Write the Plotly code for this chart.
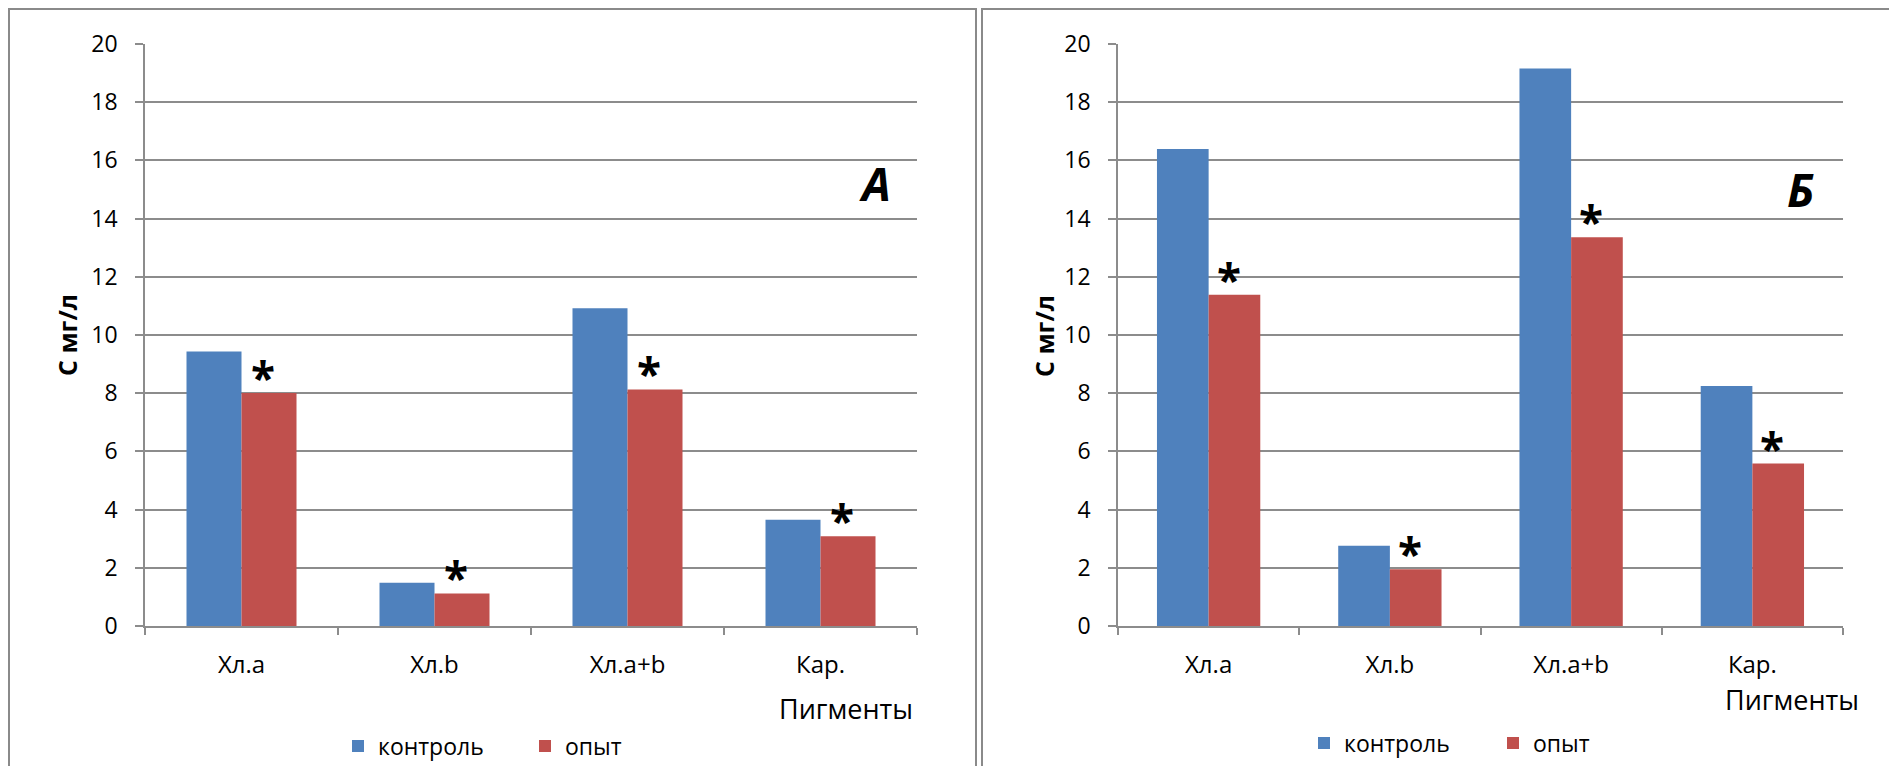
import plotly.graph_objects as go

# ---------------- data ----------------
categories = ["Хл.а", "Хл.b", "Хл.а+b", "Кар."]
series_names = ["контроль", "опыт"]
control_A = [9.43, 1.49, 10.92, 3.65]
experiment_A = [8.01, 1.12, 8.13, 3.08]
control_B = [16.39, 2.76, 19.16, 8.25]
experiment_B = [11.38, 1.95, 13.36, 5.58]
y_ticks = [0, 2, 4, 6, 8, 10, 12, 14, 16, 18, 20]
panel_labels = ["А", "Б"]
x_title = "Пигменты"
y_title = "С мг/л"
signif_mark = "*"

# ---------------- style ----------------
PAGE_W, PAGE_H = 1897, 766
OFF = 8  # default body margin of the html page
W, H = PAGE_W - OFF, PAGE_H - OFF
BLUE = "#4F81BD"
RED = "#C0504D"
GRID = "#8C8C8C"
FONT = "Open Sans, Liberation Sans, sans-serif"


def fx(px):
    """page pixel x -> paper fraction"""
    return (px - OFF) / W


def fy(py):
    """page pixel y (from top) -> paper fraction"""
    return 1 - (py - OFF) / H


fig = go.Figure()

panels = [
    dict(ctrl=control_A, exp=experiment_A, xa="x", ya="y", legend="legend"),
    dict(ctrl=control_B, exp=experiment_B, xa="x2", ya="y2", legend="legend2"),
]

for p in panels:
    fig.add_trace(go.Bar(x=categories, y=p["ctrl"], name=series_names[0],
                         marker=dict(color=BLUE, line=dict(width=0)),
                         xaxis=p["xa"], yaxis=p["ya"], legend=p["legend"]))
    fig.add_trace(go.Bar(x=categories, y=p["exp"], name=series_names[1],
                         marker=dict(color=RED, line=dict(width=0)),
                         xaxis=p["xa"], yaxis=p["ya"], legend=p["legend"]))

xaxis_common = dict(type="category", showline=True, linecolor=GRID, linewidth=1.5,
                    ticks="outside", tickson="boundaries", ticklen=7, tickwidth=1.5,
                    tickcolor=GRID, showgrid=False, zeroline=False, automargin=False,
                    tickfont=dict(size=24, color="black", family=FONT),
                    ticklabelstandoff=16, fixedrange=True)
yaxis_common = dict(range=[0, 20], tickvals=y_ticks, showgrid=True, gridcolor=GRID,
                    gridwidth=1.5, showline=True, linecolor=GRID, linewidth=1.5,
                    ticks="outside", ticklen=8, tickwidth=1.5, tickcolor=GRID,
                    zeroline=False, automargin=False,
                    tickfont=dict(size=23, color="black", family=FONT),
                    ticklabelstandoff=13, fixedrange=True)

legend_common = dict(orientation="h", bgcolor="rgba(0,0,0,0)", itemwidth=30,
                     font=dict(size=23, color="black", family=FONT),
                     xanchor="left", yanchor="middle", traceorder="normal",
                     entrywidthmode="pixels",
                     itemclick=False, itemdoubleclick=False)

fig.update_layout(
    width=W, height=H,
    margin=dict(l=0, r=0, t=0, b=0, autoexpand=False),
    paper_bgcolor="white", plot_bgcolor="white",
    barmode="group", bargap=0.43, bargroupgap=0,
    font=dict(family=FONT, color="black"),
    xaxis=dict(domain=[fx(145), fx(917)], anchor="y", **xaxis_common),
    yaxis=dict(domain=[fy(626), fy(44)], anchor="x", **yaxis_common),
    xaxis2=dict(domain=[fx(1118), fx(1843)], anchor="y2", **xaxis_common),
    yaxis2=dict(domain=[fy(626), fy(44)], anchor="x2", **yaxis_common),
    legend=dict(x=fx(338), y=fy(746), entrywidth=142, **legend_common),
    legend2=dict(x=fx(1304), y=fy(743), entrywidth=144, **legend_common),
    showlegend=True,
)

annotations = []
# significance asterisks above the experiment bars
for p in panels:
    for i, v in enumerate(p["exp"]):
        annotations.append(dict(x=i + 0.11, y=v, xref=p["xa"], yref=p["ya"],
                                text="<b>" + signif_mark + "</b>", showarrow=False,
                                xanchor="center", yanchor="middle", yshift=16,
                                font=dict(size=44, color="black", family=FONT)))

# panel letters
for lab, (px, py) in zip(panel_labels, [(875, 183), (1800, 189)]):
    annotations.append(dict(x=fx(px), y=fy(py), xref="paper", yref="paper",
                            text="<b><i>" + lab + "</i></b>", showarrow=False,
                            xanchor="center", yanchor="middle",
                            font=dict(size=46, color="black", family=FONT)))

# x-axis titles
for (px, py) in [(915, 708), (1861, 699)]:
    annotations.append(dict(x=fx(px), y=fy(py), xref="paper", yref="paper",
                            text=x_title, showarrow=False,
                            xanchor="right", yanchor="middle",
                            font=dict(size=27, color="black", family=FONT)))

# y-axis titles
for (px, py) in [(67, 335), (1044, 336)]:
    annotations.append(dict(x=fx(px), y=fy(py), xref="paper", yref="paper",
                            text="<b>" + y_title + "</b>", showarrow=False,
                            textangle=-90, xanchor="center", yanchor="middle",
                            font=dict(size=25, color="black", family=FONT)))

fig.update_layout(annotations=annotations)

# panel frames
shapes = [
    dict(type="rect", xref="paper", yref="paper",
         x0=fx(9), x1=fx(976), y0=fy(780), y1=fy(9),
         line=dict(color="#8A8A8A", width=2), fillcolor="rgba(0,0,0,0)", layer="below"),
    dict(type="rect", xref="paper", yref="paper",
         x0=fx(982), x1=fx(1920), y0=fy(780), y1=fy(9),
         line=dict(color="#8A8A8A", width=2), fillcolor="rgba(0,0,0,0)", layer="below"),
]
fig.update_layout(shapes=shapes)

fig.write_html("out.html")
